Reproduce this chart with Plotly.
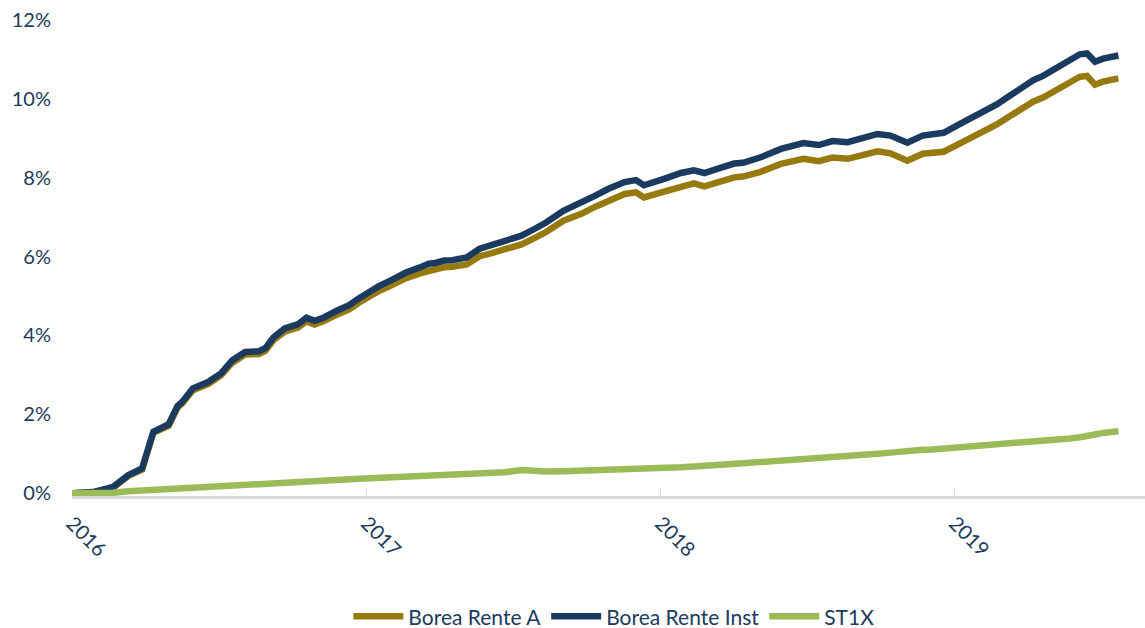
import plotly.graph_objects as go

dates = [
    "2016-01-01","2016-01-27","2016-02-21","2016-03-11","2016-03-28","2016-04-11","2016-04-30","2016-05-11",
    "2016-05-17","2016-05-30","2016-06-18","2016-07-04","2016-07-18","2016-08-03","2016-08-20","2016-08-28",
    "2016-09-07","2016-09-21","2016-10-08","2016-10-18","2016-10-28","2016-11-08","2016-11-26","2016-12-10",
    "2016-12-22",
    "2017-01-05","2017-01-16","2017-01-29","2017-02-18","2017-03-07","2017-03-19","2017-03-27","2017-04-07",
    "2017-04-17","2017-05-05","2017-05-21","2017-06-05","2017-06-21","2017-07-12","2017-07-28","2017-08-12",
    "2017-09-02","2017-09-25","2017-10-11","2017-10-28","2017-11-17","2017-12-01","2017-12-11",
    "2018-01-05","2018-01-26","2018-02-11","2018-02-24","2018-03-13","2018-04-02","2018-04-13","2018-05-05",
    "2018-05-30","2018-06-11","2018-06-27","2018-07-16","2018-08-02","2018-08-21","2018-09-09","2018-09-27",
    "2018-10-13","2018-11-03","2018-11-22","2018-12-04","2018-12-18",
    "2019-01-08","2019-01-29","2019-02-14","2019-02-22","2019-03-11","2019-03-23","2019-04-08","2019-04-21",
    "2019-05-08","2019-05-24","2019-06-05","2019-06-14","2019-06-24","2019-07-04","2019-07-15","2019-07-23",
]

borea_rente_a = [
    0.00,0.02,0.14,0.44,0.60,1.53,1.71,2.17,2.28,2.61,2.77,2.99,3.31,3.52,3.53,3.61,3.88,4.10,4.21,4.36,4.28,4.36,4.54,4.66,4.83,
    5.01,5.13,5.25,5.45,5.57,5.66,5.68,5.73,5.74,5.80,6.01,6.09,6.19,6.31,6.47,6.63,6.91,7.09,7.26,7.43,7.59,7.63,7.50,
    7.65,7.79,7.86,7.78,7.89,8.01,8.03,8.15,8.35,8.39,8.48,8.42,8.51,8.48,8.57,8.67,8.62,8.43,8.61,8.62,8.66,
    8.88,9.08,9.27,9.35,9.57,9.73,9.93,10.04,10.24,10.44,10.56,10.58,10.36,10.44,10.47,10.52,
]

borea_rente_inst = [
    0.00,0.03,0.16,0.46,0.63,1.56,1.75,2.21,2.32,2.66,2.82,3.04,3.37,3.58,3.60,3.68,3.95,4.18,4.29,4.45,4.37,4.45,4.64,4.77,4.94,
    5.13,5.25,5.38,5.59,5.72,5.82,5.84,5.90,5.91,5.98,6.20,6.29,6.40,6.53,6.70,6.87,7.16,7.36,7.54,7.72,7.89,7.94,7.81,
    7.97,8.12,8.19,8.12,8.23,8.36,8.38,8.52,8.73,8.78,8.88,8.83,8.93,8.90,9.00,9.11,9.07,8.89,9.07,9.09,9.14,
    9.37,9.58,9.78,9.86,10.09,10.26,10.47,10.59,10.80,11.00,11.13,11.15,10.94,11.02,11.05,11.10,
]

st1x = [
    0.00,0.00,0.01,0.05,0.07,0.08,0.10,0.11,0.12,0.13,0.17,0.20,0.22,0.24,0.25,0.26,0.26,0.27,0.29,0.30,0.31,0.32,0.35,0.36,0.37,
    0.38,0.39,0.40,0.42,0.43,0.44,0.45,0.46,0.46,0.48,0.49,0.50,0.53,0.59,0.55,0.55,0.56,0.57,0.58,0.59,0.60,0.61,0.62,
    0.64,0.66,0.68,0.69,0.71,0.74,0.76,0.79,0.82,0.84,0.87,0.90,0.92,0.94,0.97,1.00,1.03,1.08,1.10,1.11,1.13,
    1.17,1.20,1.22,1.23,1.26,1.28,1.31,1.33,1.36,1.39,1.42,1.44,1.49,1.53,1.56,1.57,
]

y_ticks = [0, 2, 4, 6, 8, 10, 12]
y_ticklabels = ["0%", "2%", "4%", "6%", "8%", "10%", "12%"]
x_ticks = ["2016-01-01", "2017-01-01", "2018-01-01", "2019-01-01"]
x_ticklabels = ["2016", "2017", "2018", "2019"]

NAVY = "#1B3A5F"
GOLD = "#96790F"
GREEN = "#9BBB59"
TEXT = "#1B3A5C"
FONT = "Lato, 'Open Sans', sans-serif"

fig = go.Figure()
series = [
    ("Borea Rente A", borea_rente_a, GOLD),
    ("Borea Rente Inst", borea_rente_inst, NAVY),
    ("ST1X", st1x, GREEN),
]
for name, vals, col in series:
    fig.add_trace(go.Scatter(
        x=dates, y=vals, name=name, mode="lines",
        line=dict(color=col, width=6.5),
    ))

fig.update_layout(
    width=1145, height=628,
    margin=dict(l=72, r=0, t=20, b=132, autoexpand=False),
    paper_bgcolor="white", plot_bgcolor="white",
    font=dict(family=FONT, size=20, color=TEXT),
    showlegend=True,
    legend=dict(
        orientation="h", x=0.505, xanchor="center",
        yref="container", y=0.018, yanchor="middle",
        font=dict(family=FONT, size=21, color=TEXT),
        itemwidth=50, traceorder="normal",
    ),
    xaxis=dict(
        type="date",
        range=["2016-01-01", "2019-08-25"],
        tickvals=x_ticks, ticktext=x_ticklabels,
        tickangle=45,
        showgrid=False, zeroline=False,
        showline=True, linecolor="#D9D9D9", linewidth=3,
        ticks="inside", ticklen=7, tickcolor="#D9D9D9", tickwidth=1,
        layer="below traces",
        tickfont=dict(family=FONT, size=20, color=TEXT),
        ticklabelstandoff=5,
        automargin=False,
    ),
    yaxis=dict(
        range=[-0.07, 12],
        tickvals=y_ticks, ticktext=y_ticklabels,
        showgrid=False, zeroline=False, showline=False,
        tickfont=dict(family=FONT, size=20, color=TEXT),
        ticklabelstandoff=20,
        automargin=False,
    ),
)

fig.write_html("out.html")
